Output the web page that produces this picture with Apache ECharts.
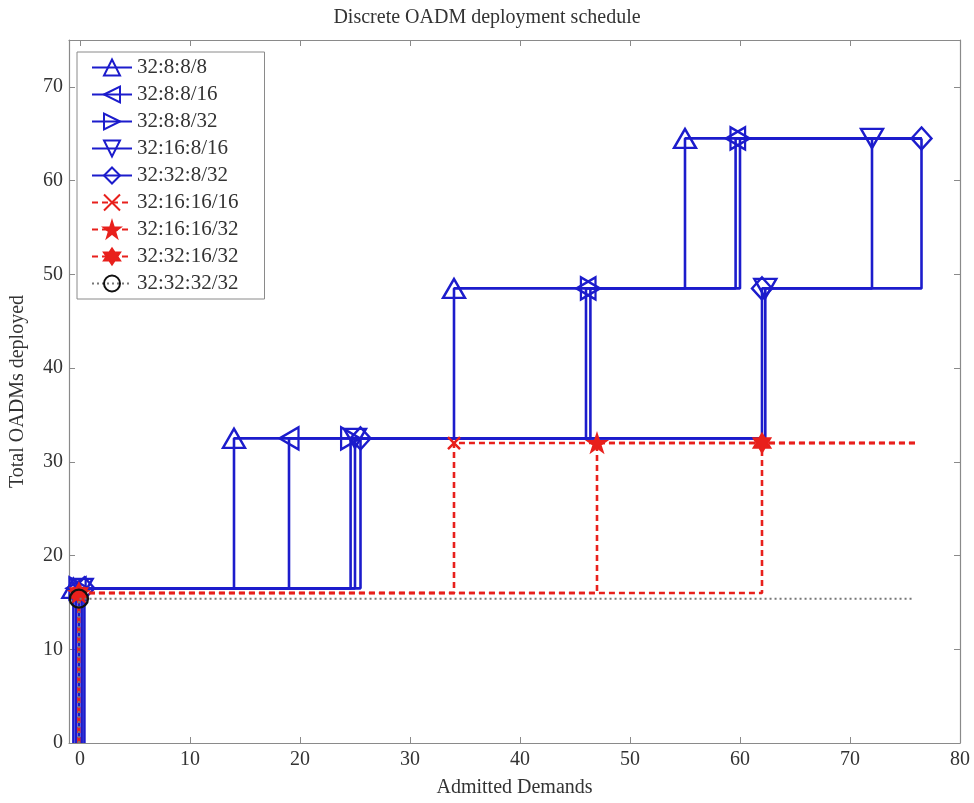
<!DOCTYPE html>
<html>
<head>
<meta charset="utf-8">
<script src="https://cdn.jsdelivr.net/npm/echarts@6/dist/echarts.min.js"></script>
<style>
html,body{margin:0;padding:0;background:#fff;}
#c{width:974px;height:803px;}
</style>
</head>
<body>
<div id="c"></div>
<script>
// ---- data ----
const titleText = 'Discrete OADM deployment schedule';
const xName = 'Admitted Demands';
const yName = 'Total OADMs deployed';
const xTicks = [0, 10, 20, 30, 40, 50, 60, 70, 80];
const yTicks = [0, 10, 20, 30, 40, 50, 60, 70];
const seriesNames = ['32:8:8/8', '32:8:8/16', '32:8:8/32', '32:16:8/16', '32:32:8/32',
  '32:16:16/16', '32:16:16/32', '32:32:16/32', '32:32:32/32'];
// start x of each series (vertical from 0), change-point x and level, final x
const startX = [-0.6, -0.35, -0.1, 0.15, 0.4, -0.1, -0.1, -0.1, -0.1];
const s1X = [-0.6, 14, 34, 55];      const s1Y = [16.5, 32.5, 48.5, 64.5];
const s2X = [-0.35, 19, 46, 59.6];   const s2Y = [16.5, 32.5, 48.5, 64.5];
const s3X = [-0.1, 24.6, 46.4, 60];  const s3Y = [16.5, 32.5, 48.5, 64.5];
const s4X = [0.15, 25, 62.3, 72];    const s4Y = [16.5, 32.5, 48.5, 64.5];
const s5X = [0.4, 25.5, 62, 76.5];   const s5Y = [16.5, 32.5, 48.5, 64.5];
const s6X = [-0.1, 34];              const s6Y = [16, 32];
const s7X = [-0.1, 47];              const s7Y = [16, 32];
const s8X = [-0.1, 62];              const s8Y = [16, 32];
const s9X = [-0.1];                  const s9Y = [15.4];
const endX = [76.5, 76.5, 76.5, 76.5, 76.5, 76, 76, 76, 75.8];

const allX = [s1X, s2X, s3X, s4X, s5X, s6X, s7X, s8X, s9X];
const allY = [s1Y, s2Y, s3Y, s4Y, s5Y, s6Y, s7Y, s8Y, s9Y];

// ---- styles ----
const BLUE = '#1c1ccc';
const RED = '#e8201c';
const triLeft = 'path://M0,5L10,0L10,10Z';
const triRight = 'path://M10,5L0,0L0,10Z';
const triDown = 'path://M0,0L10,0L5,10Z';
const diamond = 'path://M5,0L10,6L5,12L0,6Z';
const cross = 'path://M0,0L10,10M10,0L0,10';
const star5 = 'path://M10,0L12.245,6.91L19.511,6.91L13.633,11.18L15.878,18.09L10,13.82L4.122,18.09L6.367,11.18L0.489,6.91L7.755,6.91Z';
const star6 = 'path://M10,0L12.887,5L18.66,5L15.77,10L18.66,15L12.887,15L10,20L7.113,15L1.34,15L4.23,10L1.34,5L7.113,5Z';
const styles = [
  {sym: 'triangle', size: [22, 19], color: BLUE, type: 'solid', fill: 'rgba(255,255,255,0)'},
  {sym: triLeft, size: [19, 22], color: BLUE, type: 'solid', fill: 'rgba(255,255,255,0)'},
  {sym: triRight, size: [19, 22], color: BLUE, type: 'solid', fill: 'rgba(255,255,255,0)'},
  {sym: triDown, size: [22, 19], color: BLUE, type: 'solid', fill: 'rgba(255,255,255,0)'},
  {sym: diamond, size: [20, 22], color: BLUE, type: 'solid', fill: 'rgba(255,255,255,0)'},
  {sym: cross, size: [12, 12], color: RED, type: [6, 4], fill: RED},
  {sym: star5, size: [17, 16], color: RED, type: [6, 4], fill: RED},
  {sym: star6, size: [16, 18], color: RED, type: [6, 4], fill: RED},
  {sym: 'circle', size: [18, 18], color: '#111', type: [2, 3], fill: 'rgba(255,255,255,0)'}
];

function buildData(i) {
  const xs = allX[i], ys = allY[i];
  const d = [{value: [startX[i], 0], symbol: 'none'}];
  for (let k = 0; k < xs.length; k++) d.push({value: [xs[k], ys[k]]});
  if (endX[i] > xs[xs.length - 1]) d.push({value: [endX[i], ys[ys.length - 1]], symbol: 'none'});
  return d;
}

const series = seriesNames.map((name, i) => {
  const st = styles[i];
  const isBlack = i === 8;
  return {
    name: name,
    type: 'line',
    step: 'end',
    data: buildData(i),
    symbol: st.sym,
    symbolSize: st.size,
    showAllSymbol: true,
    animation: false,
    lineStyle: {color: isBlack ? '#777' : st.color, width: isBlack ? 2 : 2.6, type: st.type},
    itemStyle: {color: st.fill, borderColor: st.color, borderWidth: 2.4},
    emphasis: {disabled: true},
    z: 2 + i
  };
});

const axisLine = {show: true, onZero: false, lineStyle: {color: '#8a8a8a', width: 1.2}};
const tickStyle = {lineStyle: {color: '#8a8a8a', width: 1}};
const labelFont = {fontFamily: 'Liberation Serif', fontSize: 20, color: '#333'};

const option = {
  backgroundColor: '#fff',
  animation: false,
  title: {
    text: titleText, left: 'center', top: 3,
    textStyle: {fontFamily: 'Liberation Serif', fontSize: 20, fontWeight: 'normal', color: '#333'}
  },
  grid: {left: 68, right: 14, top: 40, bottom: 59, containLabel: false},
  legend: {
    orient: 'vertical', left: 77, top: 52,
    padding: [5, 26, 5, 14],
    itemWidth: 40, itemHeight: 20, itemGap: 6,
    backgroundColor: '#fff', borderColor: '#8a8a8a', borderWidth: 1,
    textStyle: {fontFamily: 'Liberation Serif', fontSize: 21, color: '#333'},
    data: seriesNames
  },
  xAxis: [
    {type: 'value', min: -1, max: 80, position: 'bottom',
     name: xName, nameLocation: 'middle', nameGap: 35,
     nameTextStyle: {fontFamily: 'Liberation Serif', fontSize: 20, color: '#333'},
     axisLine: axisLine, splitLine: {show: false},
     axisTick: {inside: true, length: 6, customValues: xTicks, lineStyle: tickStyle.lineStyle},
     axisLabel: Object.assign({customValues: xTicks, margin: 7}, labelFont)},
    {type: 'value', min: -1, max: 80, position: 'top',
     axisLine: axisLine, splitLine: {show: false},
     axisTick: {inside: true, length: 6, customValues: xTicks, lineStyle: tickStyle.lineStyle},
     axisLabel: {show: false}}
  ],
  yAxis: [
    {type: 'value', min: 0, max: 75, position: 'left',
     name: yName, nameLocation: 'middle', nameGap: 41,
     nameTextStyle: {fontFamily: 'Liberation Serif', fontSize: 20, color: '#333'},
     axisLine: axisLine, splitLine: {show: false},
     axisTick: {inside: true, length: 6, customValues: yTicks, lineStyle: tickStyle.lineStyle},
     axisLabel: Object.assign({customValues: yTicks, margin: 6}, labelFont)},
    {type: 'value', min: 0, max: 75, position: 'right',
     axisLine: axisLine, splitLine: {show: false},
     axisTick: {inside: true, length: 6, customValues: yTicks, lineStyle: tickStyle.lineStyle},
     axisLabel: {show: false}}
  ],
  series: series
};

const chart = echarts.init(document.getElementById('c'), null, {renderer: 'canvas'});
chart.setOption(option);
</script>
</body>
</html>
